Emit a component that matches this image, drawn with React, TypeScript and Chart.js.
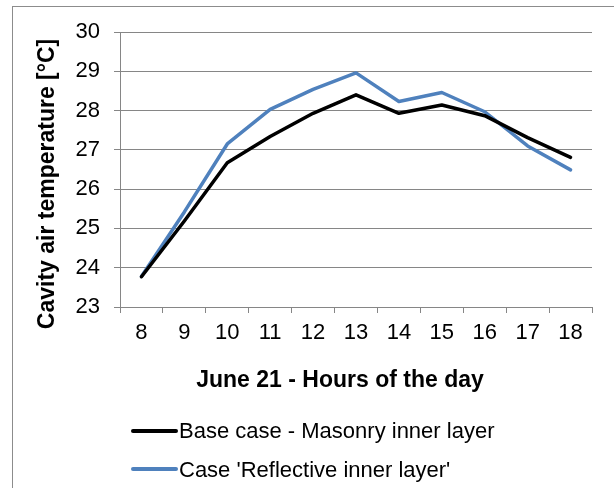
import React, { useEffect, useRef } from 'react';
import { Chart, registerables } from 'chart.js';

Chart.register(...registerables);

const hours = ['8', '9', '10', '11', '12', '13', '14', '15', '16', '17', '18'];
const baseCase = [23.77, 25.19, 26.67, 27.34, 27.93, 28.4, 27.93, 28.14, 27.87, 27.31, 26.81];
const reflectiveCase = [23.78, 25.42, 27.15, 28.03, 28.54, 28.96, 28.23, 28.46, 27.97, 27.1, 26.49];
const seriesNames = ['Base case - Masonry inner layer', "Case 'Reflective inner layer'"];
const seriesColors = ['#000000', '#4F81BD'];
const yTitle = 'Cavity air temperature [°C]';
const xTitle = 'June 21 - Hours of the day';
const yMin = 23;
const yMax = 30;

const FONT = '"Liberation Sans", Arial, sans-serif';
const GRID = '#868686';

const textPlugin = {
  id: 'customText',
  afterDraw(chart: any) {
    const ctx = chart.ctx as CanvasRenderingContext2D;
    ctx.save();
    ctx.fillStyle = '#000';
    // y title
    ctx.save();
    ctx.translate(54, 184);
    ctx.rotate(-Math.PI / 2);
    ctx.font = `bold 23px ${FONT}`;
    ctx.textAlign = 'center';
    ctx.textBaseline = 'alphabetic';
    ctx.fillText(yTitle, 0, 0);
    ctx.restore();
    // x title
    ctx.font = `bold 23px ${FONT}`;
    ctx.textAlign = 'center';
    ctx.textBaseline = 'alphabetic';
    ctx.fillText(xTitle, 340, 387);
    // legend
    const rows = [
      { lineY: 431, textY: 438 },
      { lineY: 469, textY: 477 },
    ];
    ctx.font = `22px ${FONT}`;
    ctx.textAlign = 'left';
    seriesNames.forEach((name, i) => {
      const r = rows[i];
      ctx.strokeStyle = seriesColors[i];
      ctx.lineWidth = 4;
      ctx.lineCap = 'round';
      ctx.beginPath();
      ctx.moveTo(133, r.lineY);
      ctx.lineTo(176, r.lineY);
      ctx.stroke();
      ctx.fillStyle = '#000';
      ctx.fillText(name, 179, r.textY);
    });
    ctx.restore();
  },
};

export default function App() {
  const ref = useRef<HTMLCanvasElement>(null);

  useEffect(() => {
    if (!ref.current) return;
    const chart = new Chart(ref.current, {
      type: 'line',
      data: {
        labels: hours,
        datasets: [
          {
            label: seriesNames[0],
            data: baseCase,
            borderColor: seriesColors[0],
            backgroundColor: seriesColors[0],
            borderWidth: 3.5,
            pointRadius: 0,
            tension: 0,
            borderJoinStyle: 'round',
            borderCapStyle: 'round',
          },
          {
            label: seriesNames[1],
            data: reflectiveCase,
            borderColor: seriesColors[1],
            backgroundColor: seriesColors[1],
            borderWidth: 3.5,
            pointRadius: 0,
            tension: 0,
            borderJoinStyle: 'round',
            borderCapStyle: 'round',
          },
        ],
      },
      options: {
        responsive: false,
        animation: false,
        layout: { padding: { left: 0, right: 22, top: 32, bottom: 0 } },
        plugins: {
          legend: { display: false },
          tooltip: { enabled: false },
          title: { display: false },
        },
        scales: {
          x: {
            type: 'category',
            offset: true,
            grid: {
              offset: true,
              drawOnChartArea: false,
              drawTicks: true,
              tickLength: 6,
              color: GRID,
            },
            border: { display: true, color: GRID },
            ticks: {
              color: '#000',
              font: { family: FONT, size: 22 },
              padding: 7,
              maxRotation: 0,
              autoSkip: false,
            },
            afterFit: (scale: any) => {
              scale.height = 181;
            },
          },
          y: {
            min: yMin,
            max: yMax,
            grid: { color: GRID, tickLength: 6, drawTicks: true },
            border: { display: true, color: GRID },
            ticks: {
              stepSize: 1,
              color: '#000',
              font: { family: FONT, size: 22 },
              padding: 14,
            },
            afterFit: (scale: any) => {
              scale.width = 120;
            },
          },
        },
      },
      plugins: [textPlugin],
    } as any);
    return () => chart.destroy();
  }, []);

  return (
    <div style={{ position: 'fixed', left: 0, top: 0, width: 614, height: 488, background: '#fff', overflow: 'hidden' }}>
      <div
        style={{
          position: 'absolute',
          left: 12,
          top: 6,
          width: 700,
          height: 600,
          borderTop: '1px solid #8c8c8c',
          borderLeft: '1px solid #8c8c8c',
        }}
      />
      <canvas ref={ref} width={614} height={488} style={{ position: 'absolute', left: 0, top: 0, width: 614, height: 488 }} />
    </div>
  );
}
